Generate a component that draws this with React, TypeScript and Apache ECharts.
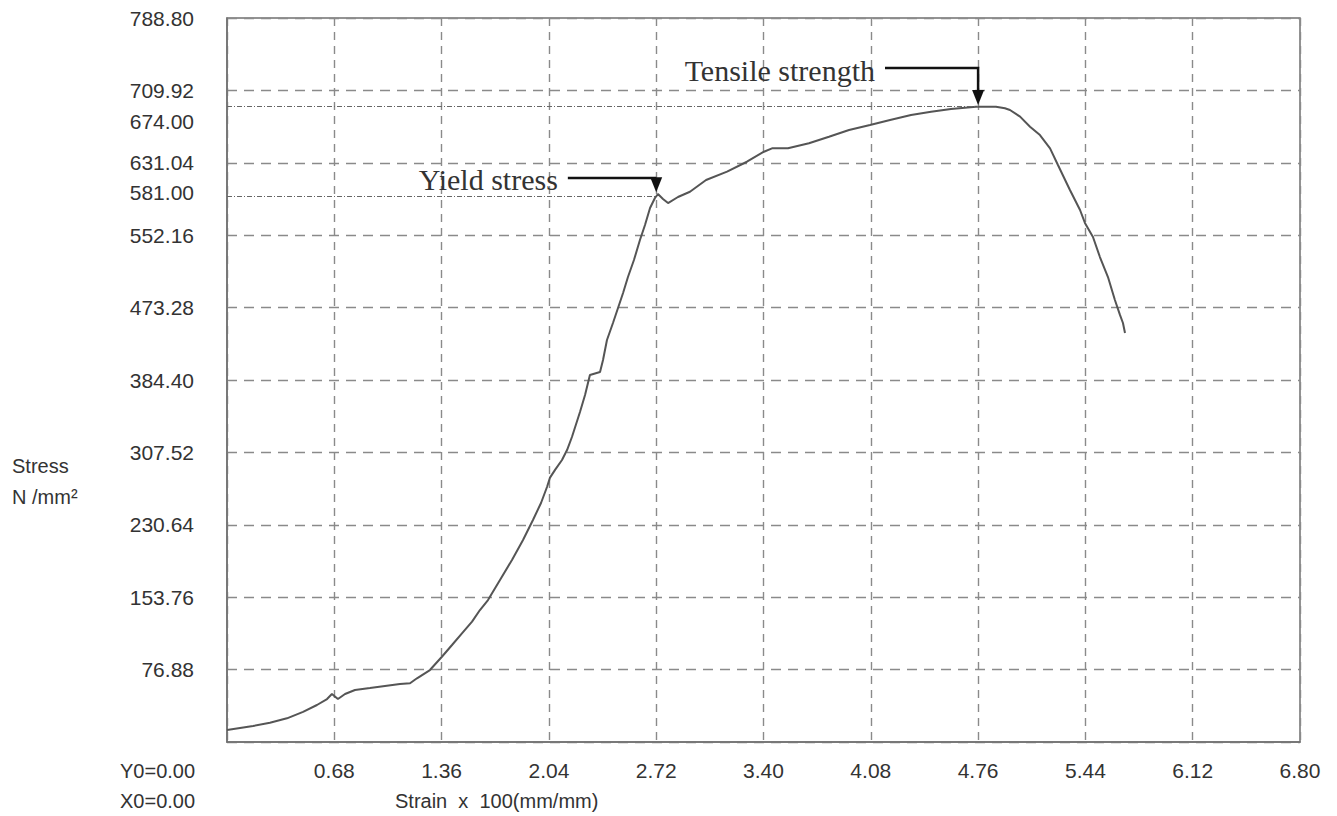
import React, { useEffect, useRef } from 'react';
import * as echarts from 'echarts';

const strain = [
  0.0, 0.165, 0.272, 0.38, 0.482, 0.57, 0.634, 0.665, 0.703, 0.748, 0.811, 0.906, 1.001, 1.096, 1.16,
  1.204, 1.286, 1.362, 1.426, 1.489, 1.553, 1.603, 1.654, 1.73, 1.806, 1.876, 1.939, 1.99, 2.028,
  2.047, 2.079, 2.123, 2.155, 2.186, 2.237, 2.269, 2.3, 2.364, 2.383, 2.408, 2.446, 2.478, 2.51,
  2.541, 2.579, 2.617, 2.649, 2.681, 2.712, 2.731, 2.763, 2.795, 2.858, 2.934, 3.036, 3.169, 3.295,
  3.403, 3.454, 3.555, 3.688, 3.815, 3.942, 4.075, 4.202, 4.335, 4.462, 4.588, 4.747, 4.873, 4.93,
  4.962, 5.026, 5.089, 5.152, 5.216, 5.266, 5.342, 5.406, 5.437, 5.488, 5.532, 5.583, 5.627, 5.659,
  5.678, 5.691,
];
const stress = [
  13.1, 17.4, 21.0, 25.8, 32.9, 40.3, 46.8, 52.3, 46.8, 52.3, 56.7, 58.8, 61.0, 63.2, 64.0,
  69.4, 78.4, 92.9, 105.7, 118.4, 131.1, 143.8, 154.7, 176.5, 198.3, 220.1, 241.9, 260.4, 277.8,
  288.0, 296.5, 307.2, 318.1, 332.3, 359.5, 378.1, 399.8, 403.1, 416.2, 438.0, 456.5, 472.8, 489.2,
  506.6, 525.1, 546.9, 563.3, 581.8, 592.7, 597.0, 591.6, 587.2, 593.8, 599.5, 612.3, 621.4, 632.2,
  643.1, 646.8, 646.8, 652.3, 659.5, 666.8, 672.2, 677.7, 683.1, 686.7, 689.7, 692.2, 692.2, 690.4,
  688.6, 681.3, 670.4, 661.3, 646.8, 628.6, 601.4, 579.6, 565.5, 550.2, 528.4, 506.6, 481.6, 465.3,
  456.5, 445.6,
];

const yTickLabels = ['', '76.88', '153.76', '230.64', '307.52', '384.40', '473.28', '552.16', '631.04', '709.92', '788.80'];
const yStep = 78.88;
const xStep = 0.68;

// reference levels drawn as dash-dot lines (positions) and their printed labels
const refLevels = [
  { level: 692.2, strainEnd: 4.76, label: '674.00', labelShift: 15 },
  { level: 595, strainEnd: 2.72, label: '581.00', labelShift: -3 },
];

const annotations = [
  { text: 'Tensile strength', startX: 4.17, elbowY: 734.3, tipX: 4.76, tipY: 694 },
  { text: 'Yield stress', startX: 2.16, elbowY: 614.5, tipX: 2.72, tipY: 599 },
];

export default function App() {
  const ref = useRef<HTMLDivElement>(null);
  useEffect(() => {
    if (!ref.current) return;
    const chart = echarts.init(ref.current, undefined, { renderer: 'svg' });
    const font = 'Liberation Sans';
    chart.setOption({
      animation: false,
      backgroundColor: '#ffffff',
      grid: { left: 227, right: 37, top: 18, bottom: 74, show: true, borderColor: '#707070', borderWidth: 1.5 },
      xAxis: {
        type: 'value',
        min: 0,
        max: 6.8,
        interval: xStep,
        axisLine: { show: true, lineStyle: { color: '#707070', width: 1.5 } },
        axisTick: { show: false },
        axisLabel: {
          margin: 18,
          color: '#333',
          fontSize: 21,
          fontFamily: font,
          formatter: (v: number) => (v < 0.01 ? '' : v.toFixed(2)),
        },
        splitLine: { show: true, lineStyle: { color: '#8a8a8a', type: [8, 6], width: 1.4 } },
      },
      yAxis: {
        type: 'value',
        min: 0,
        max: 788.8,
        interval: yStep,
        axisLine: { show: true, lineStyle: { color: '#707070', width: 1.5 } },
        axisTick: { show: false },
        axisLabel: {
          margin: 33,
          color: '#333',
          fontSize: 21,
          fontFamily: font,
          formatter: (v: number) => yTickLabels[Math.round(v / yStep)] ?? '',
        },
        splitLine: { show: true, lineStyle: { color: '#8a8a8a', type: [10, 7], width: 1.4 } },
      },
      series: [
        {
          type: 'line',
          data: strain.map((x, i) => [x, stress[i]]),
          showSymbol: false,
          symbol: 'none',
          lineStyle: { color: '#555', width: 2 },
          markLine: {
            silent: true,
            symbol: 'none',
            lineStyle: { color: '#666', type: [5, 2, 1, 2], width: 1 },
            label: { show: false },
            data: refLevels.map((r) => [{ coord: [0, r.level] }, { coord: [r.strainEnd, r.level] }]),
          },
        },
      ],
    });

    const p = (x: number, y: number) => chart.convertToPixel({ gridIndex: 0 }, [x, y]) as number[];
    const graphics: any[] = [];
    refLevels.forEach((r) => {
      const q = p(0, r.level);
      graphics.push({
        type: 'text',
        x: q[0] - 33,
        y: q[1] + r.labelShift,
        style: {
          text: r.label,
          fill: '#333',
          font: `21px "${font}"`,
          textAlign: 'right',
          textVerticalAlign: 'middle',
        },
      });
    });
    annotations.forEach((a) => {
      const s = p(a.startX, a.elbowY);
      const e = p(a.tipX, a.elbowY);
      const t = p(a.tipX, a.tipY);
      const headH = 15;
      graphics.push({
        type: 'polyline',
        shape: { points: [s, e, [t[0], Math.max(e[1], t[1] - headH)]] },
        style: { stroke: '#111', lineWidth: 2.5, fill: null },
      });
      graphics.push({
        type: 'polygon',
        shape: { points: [[t[0] - 6, t[1] - headH], [t[0] + 6, t[1] - headH], [t[0], t[1]]] },
        style: { fill: '#111' },
      });
      graphics.push({
        type: 'text',
        x: s[0] - 10,
        y: s[1] + 2,
        style: {
          text: a.text,
          fill: '#333',
          font: '30px "Liberation Serif"',
          textAlign: 'right',
          textVerticalAlign: 'middle',
        },
      });
    });
    const tx = (text: string, x: number, y: number, align = 'left') => ({
      type: 'text',
      x,
      y,
      style: { text, fill: '#333', font: `20px "${font}"`, textAlign: align, textVerticalAlign: 'middle' },
    });
    graphics.push(tx('Y0=0.00', 120, 771));
    graphics.push(tx('X0=0.00', 120, 801));
    graphics.push(tx('Strain  x  100(mm/mm)', 395, 801));
    graphics.push(tx('Stress', 12, 466));
    graphics.push(tx('N /mm²', 12, 497));
    chart.setOption({ graphic: graphics });

    return () => chart.dispose();
  }, []);
  return (
    <div
      ref={ref}
      style={{ position: 'absolute', left: 0, top: 0, width: 1337, height: 816, background: '#fff' }}
    />
  );
}
